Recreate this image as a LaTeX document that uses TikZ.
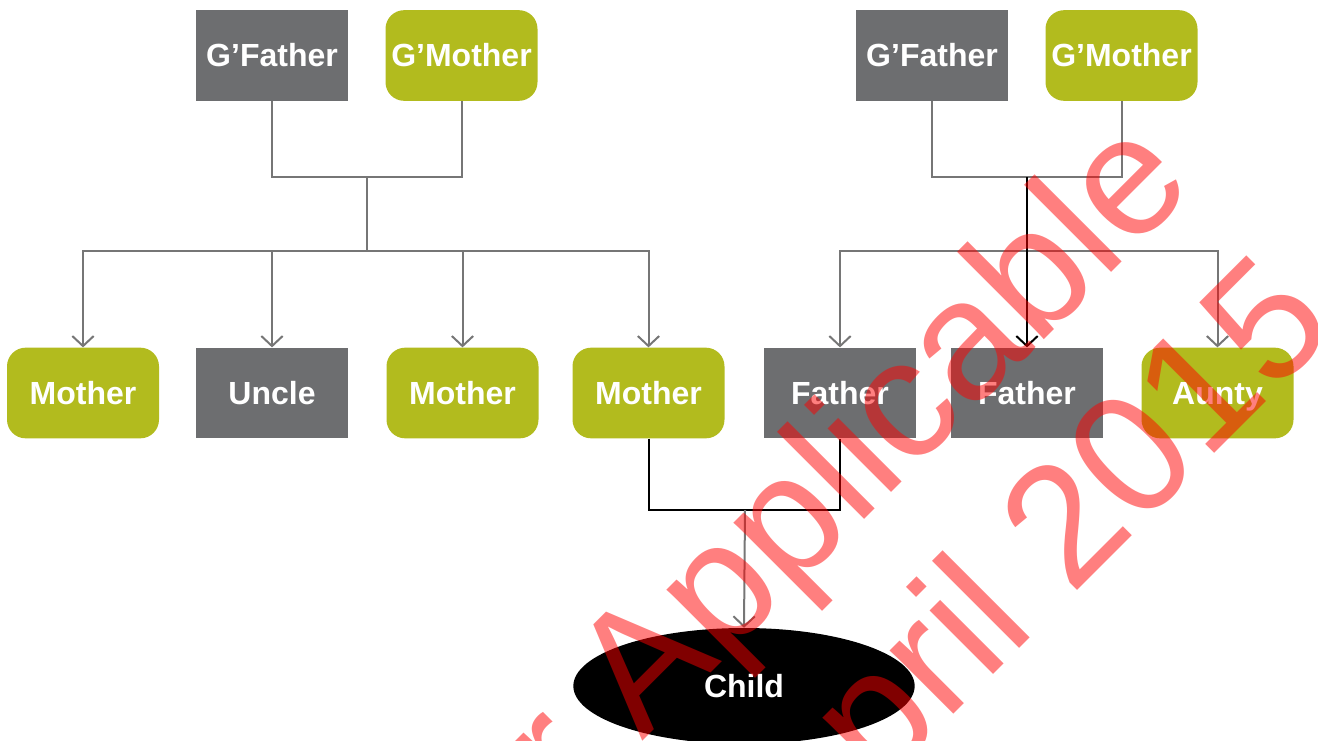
\documentclass[tikz,border=0pt]{standalone}
\usepackage{fontspec}
\setmainfont{Liberation Sans}
\newfontfamily\markfont{Liberation Sans}
\usetikzlibrary{arrows.meta,shapes.geometric}
\definecolor{boxgray}{RGB}{109,110,112}
\definecolor{boxgreen}{RGB}{178,187,30}
\definecolor{linegray}{RGB}{118,118,118}
\tikzset{
  man/.style={fill=boxgray, text=white, inner sep=0pt, minimum width=114pt, minimum height=68pt,
    font=\bfseries\fontsize{24}{28}\selectfont, text height=17.2pt, text depth=0pt},
  woman/.style={man, fill=boxgreen, rounded corners=14pt},
  link/.style={draw=linegray, line width=1.5pt},
  arr/.style={link, -{Straight Barb[length=7.5pt,width=16pt]}},
  blood/.style={draw=black, line width=1.5pt},
  bloodarr/.style={blood, -{Straight Barb[length=7.5pt,width=16pt]}},
  stamp/.style={text=red, text opacity=0.5, inner sep=0pt, anchor=base west, rotate=45,
    font=\markfont\fontsize{127.5}{150}\selectfont}
}
\begin{document}
\begin{tikzpicture}[x=0.75pt,y=-0.75pt]
\clip (0,0) rectangle (1318,740);
% grandparents
\node[man] (gf1) at (272,55.5){G’Father};
\node[woman] (gm1) at (461.5,55.5){G’Mother};
\node[man] (gf2) at (932,55.5){G’Father};
\node[woman] (gm2) at (1121.5,55.5){G’Mother};
% parents
\node[woman] (m1) at (83,393){Mother};
\node[man] (u1) at (272,393){Uncle};
\node[woman] (m2) at (462.5,393){Mother};
\node[woman] (m3) at (648.5,393){Mother};
\node[man] (f1) at (840,393){Father};
\node[man] (f2) at (1027,393){Father};
\node[woman] (au) at (1217.5,393){Aunty};
% child
\node[ellipse, fill=black, text=white, inner sep=0pt, minimum width=256pt, minimum height=87pt,
  font=\bfseries\fontsize{24}{28}\selectfont, text height=17.2pt, text depth=0pt] (ch) at (744,686){Child};
\coordinate (j1) at (367,177);
\coordinate (b1) at (367,251);
\coordinate (j2) at (1027,177);
\coordinate (b2) at (1027,251);
\coordinate (j3) at (745,510);
\draw[link](gf1.south) |- (j1) -| (gm1.south);
\draw[link](j1) -- (b1);
\foreach \n in {m1,u1,m2,m3}
  \draw[arr](b1) -| (\n.north);
\draw[link](gf2.south) |- (j2) -| (gm2.south);
\draw[arr](b2) -| (f1.north);
\draw[arr](b2) -| (au.north);
\draw[bloodarr](j2) -- (f2.north);
\draw[blood](m3.south) |- (j3) -| (f1.south);
\draw[arr](j3) -- (ch.north);
% watermark
\node[stamp] (wm1) at (569,815){r Applicable};
\node[stamp] (wm2) at (878,790){pril 2015};
\end{tikzpicture}
\end{document}
